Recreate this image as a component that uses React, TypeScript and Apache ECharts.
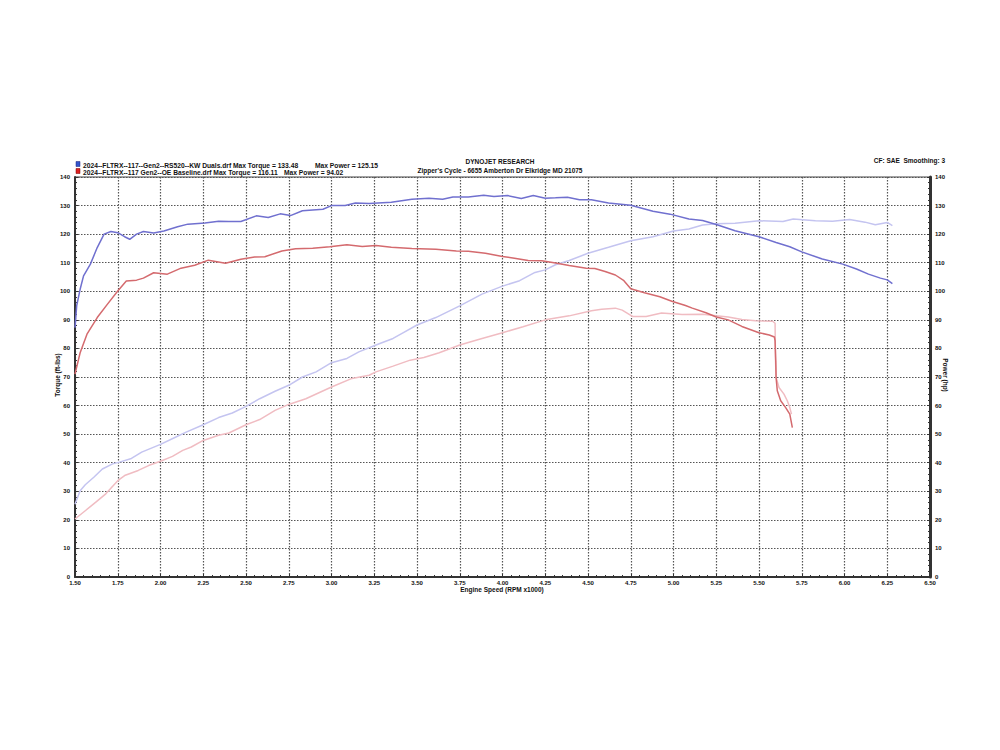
import React, { useEffect, useRef } from "react";
import * as echarts from "echarts";

// KW Duals (blue) torque
const kwTqRpm = [1.50,1.51,1.53,1.55,1.59,1.63,1.67,1.71,1.75,1.79,1.82,1.86,1.90,1.96,2.02,2.10,2.16,2.26,2.34,2.40,2.47,2.56,2.63,2.70,2.76,2.83,2.95,3.00,3.08,3.14,3.22,3.35,3.47,3.57,3.65,3.71,3.80,3.89,3.95,4.03,4.11,4.18,4.25,4.31,4.38,4.45,4.52,4.62,4.75,4.88,4.98,5.09,5.17,5.25,5.36,5.50,5.60,5.68,5.75,5.87,5.99,6.07,6.14,6.21,6.25,6.28];
const kwTorque = [87.3,95,100.7,105.4,109.5,115.3,120,120.9,120.5,119.1,118.2,120,120.9,120.4,121.1,122.6,123.5,123.9,124.5,124.4,124.4,126.4,125.8,127.1,126.5,128.2,128.7,130,130,130.9,130.7,131.2,132.2,132.6,132.2,133,133,133.6,133.2,133.5,132.5,133.5,132.6,132.7,132.9,132,132,130.9,130.1,128,127,125.3,124.8,123.4,121.2,119.1,117.1,115.6,113.8,111.3,109.5,107.8,106,104.6,104,102.7];

// KW Duals (blue) power
const kwHpRpm = [1.50,1.53,1.56,1.61,1.66,1.72,1.76,1.83,1.89,2.00,2.09,2.15,2.25,2.34,2.42,2.50,2.58,2.67,2.75,2.83,2.91,3.00,3.09,3.16,3.26,3.36,3.41,3.50,3.61,3.75,3.88,4.00,4.10,4.19,4.25,4.31,4.39,4.50,4.62,4.75,4.88,5.00,5.09,5.17,5.25,5.36,5.50,5.64,5.70,5.83,5.93,6.03,6.12,6.18,6.25,6.28];
const kwPower = [25.5,30.2,32.3,34.9,37.8,39.6,40.2,41.5,43.7,46.4,49,50.7,53.3,55.8,57.4,59.7,62.4,65,67.1,70,71.8,75,76.5,78.8,81.2,83.5,85.2,88.2,90.8,94.9,99,101.8,103.7,106.6,107.5,109.3,110.8,113.3,115.4,117.7,119.1,121.1,121.8,123.2,123.6,123.8,124.7,124.4,125.3,124.7,124.5,125.1,124.2,123.3,124.1,123];

// OE Baseline (red) torque
const oeTqRpm = [1.50,1.53,1.57,1.63,1.69,1.75,1.80,1.86,1.90,1.96,2.04,2.12,2.20,2.28,2.38,2.47,2.55,2.61,2.71,2.79,2.89,2.99,3.09,3.18,3.26,3.35,3.47,3.61,3.73,3.80,3.90,4.00,4.07,4.15,4.23,4.31,4.39,4.49,4.54,4.60,4.66,4.71,4.75,4.83,4.92,4.99,5.07,5.11,5.19,5.25,5.32,5.40,5.50,5.56,5.59,5.594,5.598,5.60,5.607,5.627,5.656,5.68,5.695];
const oeTorque = [71,78.5,85,90.8,95.5,100.1,103.6,103.9,104.6,106.5,106,108.1,109.1,110.9,109.8,111.2,112,112.1,114.1,114.9,115.1,115.6,116.3,115.7,116,115.4,115,114.7,114.1,114,113.3,112.2,111.6,110.8,110.7,109.9,109,108.1,108,106.9,105.7,103.7,100.9,99.5,98.1,96.5,95,94.1,92.5,91,90,87.7,85.5,84.7,84,82.7,75.7,69.8,65.2,61.7,59.3,57,52.3];

// OE Baseline (red) power
const oeHpRpm = [1.50,1.56,1.62,1.68,1.75,1.79,1.87,1.93,2.00,2.07,2.13,2.18,2.25,2.34,2.40,2.50,2.58,2.67,2.75,2.85,3.00,3.12,3.22,3.26,3.36,3.46,3.54,3.63,3.75,3.87,4.00,4.12,4.25,4.39,4.52,4.58,4.66,4.70,4.76,4.84,4.93,5.05,5.17,5.25,5.32,5.40,5.48,5.58,5.594,5.596,5.60,5.617,5.646,5.666,5.68,5.69];
const oePower = [20.3,23.2,26.1,29.1,33.7,35.5,37.3,39,40.5,42.2,44.3,45.5,47.8,49.6,50.4,53.3,55.1,58.3,60.4,62.4,66.5,69.5,70.6,71.8,73.8,75.9,76.8,78.5,81.2,83.3,85.5,87.6,90,91.4,93.2,93.7,94.1,93.4,91.2,91.2,92.4,91.9,92,91.4,91,90.1,89.7,89.5,88.8,76.8,69.8,66.3,64,61.6,59.3,57];

const legendRuns = [
  "2024--FLTRX--117--Gen2--RS520--KW Duals.drf Max Torque = 133.48",
  "2024--FLTRX--117 Gen2--OE Baseline.drf Max Torque = 116.11",
];
const legendPower = ["Max Power = 125.15", "Max Power = 94.02"];
const titleLines = ["DYNOJET RESEARCH", "Zipper's Cycle - 6655 Amberton Dr Elkridge MD 21075"];
const cornerNote = "CF: SAE  Smoothing: 3";

const zip = (xs: number[], ys: number[]) => xs.map((x, i) => [x, ys[i]]);

const FONT = "'Liberation Sans', Arial, sans-serif";

export default function App() {
  const ref = useRef<HTMLDivElement>(null);
  useEffect(() => {
    if (!ref.current) return;
    const chart = echarts.init(ref.current, null, { renderer: "svg" });
    const tickLabel = { fontFamily: FONT, fontWeight: "bold" as const, fontSize: 6, color: "#111" };
    const line = (name: string, data: number[][], color: string, yIdx: number, w: number) => ({
      name,
      type: "line",
      data,
      yAxisIndex: yIdx,
      showSymbol: false,
      symbol: "none",
      smooth: false,
      lineStyle: { color, width: w },
      itemStyle: { color },
      silent: true,
    });
    const txt = (x: number, y: number, text: string, size: number, extra: any = {}) => ({
      type: "text",
      x,
      y,
      style: {
        text,
        fill: "#111",
        font: `bold ${size}px ${FONT}`,
        textVerticalAlign: "middle",
        ...extra,
      },
    });
    chart.setOption({
      animation: false,
      backgroundColor: "#ffffff",
      grid: {
        left: 75,
        right: 70,
        top: 177,
        bottom: 173,
        show: true,
        borderColor: "#444",
        borderWidth: 1,
        backgroundColor: "transparent",
      },
      xAxis: {
        type: "value",
        min: 1.5,
        max: 6.5,
        interval: 0.25,
        axisLine: { show: true, onZero: false, lineStyle: { color: "#333", width: 2 } },
        axisTick: { show: true, inside: true, length: 3, lineStyle: { color: "#333" } },
        minorTick: { show: true, splitNumber: 5, length: 2, lineStyle: { color: "#333" } },
        axisLabel: { ...tickLabel, margin: 3, formatter: (v: number) => v.toFixed(2) },
        splitLine: { show: true, lineStyle: { color: "#555", type: [1.5, 1.5], width: 1.2 } },
      },
      yAxis: [
        {
          type: "value",
          min: 0,
          max: 140,
          interval: 10,
          position: "left",
          axisLine: { show: true, lineStyle: { color: "#333", width: 2 } },
          axisTick: { show: true, inside: true, length: 3, lineStyle: { color: "#333" } },
          minorTick: { show: true, splitNumber: 5, length: 2, lineStyle: { color: "#333" } },
          axisLabel: { ...tickLabel, margin: 5 },
          splitLine: { show: true, lineStyle: { color: "#555", type: [1.5, 1.5], width: 1.2 } },
        },
        {
          type: "value",
          min: 0,
          max: 140,
          interval: 10,
          position: "right",
          axisLine: { show: true, lineStyle: { color: "#333", width: 3 } },
          axisTick: { show: true, inside: true, length: 3, lineStyle: { color: "#333" } },
          minorTick: { show: true, splitNumber: 5, length: 2, lineStyle: { color: "#333" } },
          axisLabel: { ...tickLabel, margin: 5 },
          splitLine: { show: false },
        },
      ],
      series: [
        line("KW Duals Power", zip(kwHpRpm, kwPower), "#c4c4f0", 1, 1.5),
        line("OE Baseline Power", zip(oeHpRpm, oePower), "#f0bcc2", 1, 1.5),
        line("OE Baseline Torque", zip(oeTqRpm, oeTorque), "#d46a6e", 0, 1.5),
        line("KW Duals Torque", zip(kwTqRpm, kwTorque), "#7070cf", 0, 1.5),
      ],
      graphic: [
        { type: "rect", shape: { x: 76, y: 161.5, width: 4, height: 5 }, style: { fill: "#3355cc", stroke: "#1a237e", lineWidth: 0.5 } },
        { type: "rect", shape: { x: 76, y: 168.5, width: 4, height: 5 }, style: { fill: "#dd2222", stroke: "#7a0000", lineWidth: 0.5 } },
        txt(83, 165, legendRuns[0], 6.7),
        txt(315, 165, legendPower[0], 6.7),
        txt(83, 172, legendRuns[1], 6.7),
        txt(284, 172, legendPower[1], 6.7),
        txt(500, 161, titleLines[0], 6.5, { textAlign: "center" }),
        txt(500, 170, titleLines[1], 6.5, { textAlign: "center" }),
        txt(945, 160, cornerNote, 6.5, { textAlign: "right" }),
        {
          type: "text",
          x: 57,
          y: 375,
          rotation: Math.PI / 2,
          style: { text: "Torque (ft-lbs)", fill: "#111", font: `bold 6.5px ${FONT}`, textAlign: "center", textVerticalAlign: "middle" },
        },
        {
          type: "text",
          x: 945,
          y: 375,
          rotation: -Math.PI / 2,
          style: { text: "Power (hp)", fill: "#111", font: `bold 6.5px ${FONT}`, textAlign: "center", textVerticalAlign: "middle" },
        },
        {
          type: "text",
          x: 502,
          y: 589,
          style: { text: "Engine Speed (RPM x1000)", fill: "#111", font: `bold 6.5px ${FONT}`, textAlign: "center", textVerticalAlign: "middle" },
        },
      ],
    });
    return () => chart.dispose();
  }, []);
  return (
    <div
      ref={ref}
      style={{ position: "absolute", left: 0, top: 0, width: 1000, height: 750, background: "#fff" }}
    />
  );
}
